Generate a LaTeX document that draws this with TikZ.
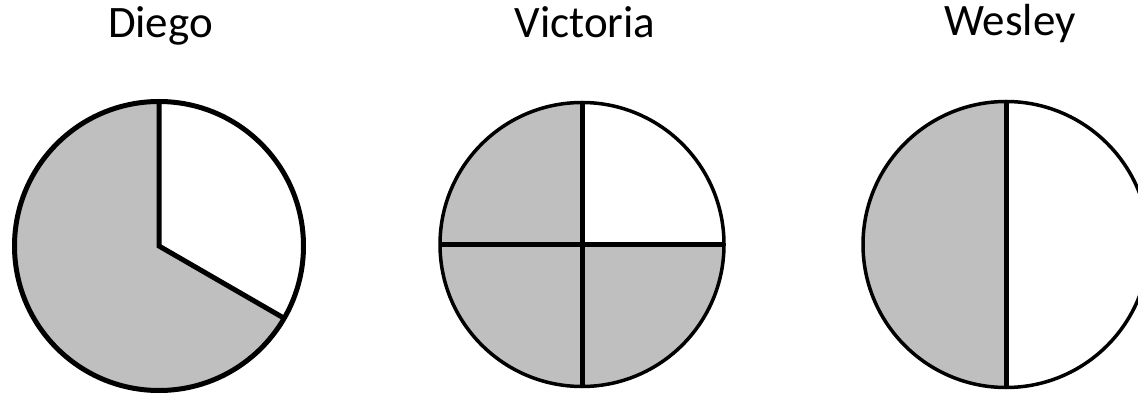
\documentclass[tikz,border=0pt]{standalone}
\usepackage{fontspec}
\setmainfont{Carlito}
\usetikzlibrary{calc}
\definecolor{pieshade}{RGB}{191,191,191}
\tikzset{
  rim/.style={line width=0.07cm},
  cut/.style={line width=0.1cm},
  namelabel/.style={anchor=base, inner sep=0pt, font=\fontsize{25.6}{30}\selectfont},
}

\begin{document}
\begin{tikzpicture}
\useasboundingbox (0,0) rectangle (22.76,7.88);
\clip (0,0) rectangle (22.76,7.88);

% centres of the three circles
\coordinate (dc) at (3.18,2.96);
\coordinate (vc) at (11.64,2.99);
\coordinate (wc) at (20.12,2.99);

%%%%%%%%%%
% Diego: two thirds shaded
%%%%%%%%%%
\fill[pieshade] (dc) -- ($(dc)+(90:2.89)$) arc[start angle=90, end angle=330, radius=2.89] -- cycle;
\draw[cut] (dc) circle[radius=2.89];
\draw[cut] ($(dc)+(90:2.89)$) -- (dc) -- ($(dc)+(-30:2.89)$);

%%%%%%%%%%
% Victoria: three quarters shaded
%%%%%%%%%%
\fill[pieshade] (vc) -- ($(vc)+(90:2.84)$) arc[start angle=90, end angle=360, radius=2.84] -- cycle;
\draw[rim] (vc) circle[radius=2.84];
\draw[cut] ($(vc)+(90:2.84)$) -- ($(vc)+(-90:2.84)$);
\draw[cut] ($(vc)+(180:2.84)$) -- ($(vc)+(0:2.84)$);

%%%%%%%%%%
% Wesley: one half shaded
%%%%%%%%%%
\fill[pieshade] ($(wc)+(90:2.86)$) arc[start angle=90, end angle=270, radius=2.86] -- cycle;
\draw[rim] (wc) circle[radius=2.86];
\draw[cut] ($(wc)+(90:2.86)$) -- ($(wc)+(-90:2.86)$);

% Names
\node[namelabel] (diego) at (3.21,7.12) {Diego};
\node[namelabel] (victoria) at (11.70,7.12) {Victoria};
\node[namelabel] (wesley) at (20.20,7.16) {Wesley};

\end{tikzpicture}
\end{document}
